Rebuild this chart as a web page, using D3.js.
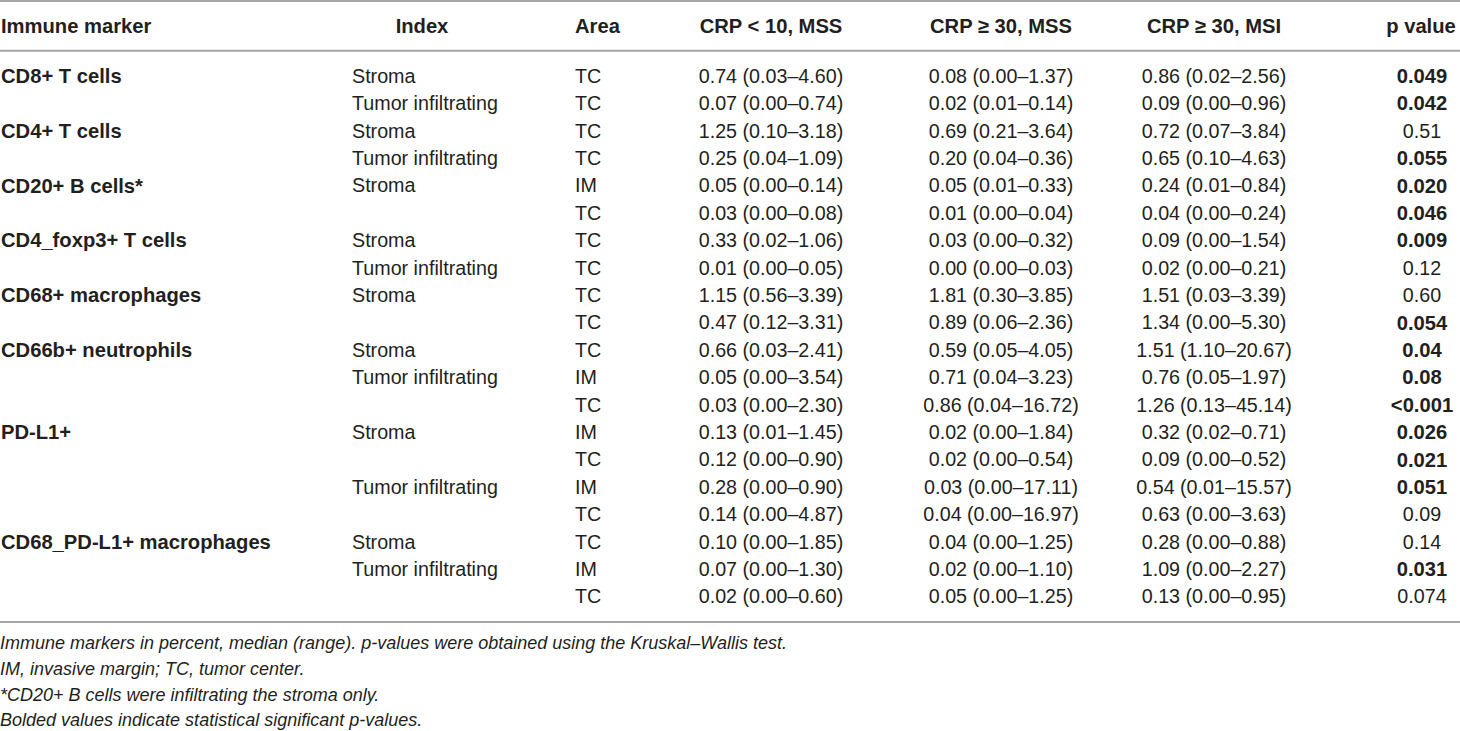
<!DOCTYPE html>
<html>
<head>
<meta charset="utf-8">
<script src="https://cdn.jsdelivr.net/npm/d3@7"></script>
<style>
  html, body { margin: 0; padding: 0; background: #fff; }
  svg text { font-family: "Liberation Sans", Arial, Helvetica, sans-serif; fill: #231f20; }
</style>
</head>
<body>
<svg id="chart" width="1460" height="731"></svg>
<script>
// Table data (one entry per row)
const headers = ["Immune marker", "Index", "Area", "CRP < 10, MSS", "CRP \u2265 30, MSS", "CRP \u2265 30, MSI", "p value"];

const markers = ["CD8+ T cells", "", "CD4+ T cells", "", "CD20+ B cells*", "", "CD4_foxp3+ T cells", "",
  "CD68+ macrophages", "", "CD66b+ neutrophils", "", "", "PD-L1+", "", "", "", "CD68_PD-L1+ macrophages", "", ""];

const indexes = ["Stroma", "Tumor infiltrating", "Stroma", "Tumor infiltrating", "Stroma", "", "Stroma", "Tumor infiltrating",
  "Stroma", "", "Stroma", "Tumor infiltrating", "", "Stroma", "", "Tumor infiltrating", "", "Stroma", "Tumor infiltrating", ""];

const areas = ["TC", "TC", "TC", "TC", "IM", "TC", "TC", "TC", "TC", "TC",
  "TC", "IM", "TC", "IM", "TC", "IM", "TC", "TC", "IM", "TC"];

const crpLowMss = ["0.74 (0.03\u20134.60)", "0.07 (0.00\u20130.74)", "1.25 (0.10\u20133.18)", "0.25 (0.04\u20131.09)",
  "0.05 (0.00\u20130.14)", "0.03 (0.00\u20130.08)", "0.33 (0.02\u20131.06)", "0.01 (0.00\u20130.05)",
  "1.15 (0.56\u20133.39)", "0.47 (0.12\u20133.31)", "0.66 (0.03\u20132.41)", "0.05 (0.00\u20133.54)",
  "0.03 (0.00\u20132.30)", "0.13 (0.01\u20131.45)", "0.12 (0.00\u20130.90)", "0.28 (0.00\u20130.90)",
  "0.14 (0.00\u20134.87)", "0.10 (0.00\u20131.85)", "0.07 (0.00\u20131.30)", "0.02 (0.00\u20130.60)"];

const crpHighMss = ["0.08 (0.00\u20131.37)", "0.02 (0.01\u20130.14)", "0.69 (0.21\u20133.64)", "0.20 (0.04\u20130.36)",
  "0.05 (0.01\u20130.33)", "0.01 (0.00\u20130.04)", "0.03 (0.00\u20130.32)", "0.00 (0.00\u20130.03)",
  "1.81 (0.30\u20133.85)", "0.89 (0.06\u20132.36)", "0.59 (0.05\u20134.05)", "0.71 (0.04\u20133.23)",
  "0.86 (0.04\u201316.72)", "0.02 (0.00\u20131.84)", "0.02 (0.00\u20130.54)", "0.03 (0.00\u201317.11)",
  "0.04 (0.00\u201316.97)", "0.04 (0.00\u20131.25)", "0.02 (0.00\u20131.10)", "0.05 (0.00\u20131.25)"];

const crpHighMsi = ["0.86 (0.02\u20132.56)", "0.09 (0.00\u20130.96)", "0.72 (0.07\u20133.84)", "0.65 (0.10\u20134.63)",
  "0.24 (0.01\u20130.84)", "0.04 (0.00\u20130.24)", "0.09 (0.00\u20131.54)", "0.02 (0.00\u20130.21)",
  "1.51 (0.03\u20133.39)", "1.34 (0.00\u20135.30)", "1.51 (1.10\u201320.67)", "0.76 (0.05\u20131.97)",
  "1.26 (0.13\u201345.14)", "0.32 (0.02\u20130.71)", "0.09 (0.00\u20130.52)", "0.54 (0.01\u201315.57)",
  "0.63 (0.00\u20133.63)", "0.28 (0.00\u20130.88)", "1.09 (0.00\u20132.27)", "0.13 (0.00\u20130.95)"];

const pValues = ["0.049", "0.042", "0.51", "0.055", "0.020", "0.046", "0.009", "0.12", "0.60", "0.054",
  "0.04", "0.08", "<0.001", "0.026", "0.021", "0.051", "0.09", "0.14", "0.031", "0.074"];

const pBold = [true, true, false, true, true, true, true, false, false, true,
  true, true, true, true, true, true, false, false, true, false];

const footnotes = [
  "Immune markers in percent, median (range). p-values were obtained using the Kruskal\u2013Wallis test.",
  "IM, invasive margin; TC, tumor center.",
  "*CD20+ B cells were infiltrating the stroma only.",
  "Bolded values indicate statistical significant p-values."
];

// Layout
const width = 1460;
const fontSize = 19.7;     // regular cells
const boldSize = 20.2;     // bold cells and header
const lineColor = "#a6a6a6";

const svg = d3.select("#chart");

// Rows positioned through a band scale
const y = d3.scaleBand()
  .domain(d3.range(markers.length))
  .range([62.3, 62.3 + 27.4 * markers.length]);
const rowY = i => y(i) + y.bandwidth() / 2;

// Column definitions: x position, anchor for header and for data
const columns = [
  { values: markers, x: 1, anchor: "start", hx: 1, hanchor: "start", bold: () => true },
  { values: indexes, x: 352, anchor: "start", hx: 422, hanchor: "middle", bold: () => false },
  { values: areas, x: 575, anchor: "start", hx: 575, hanchor: "start", bold: () => false },
  { values: crpLowMss, x: 771, anchor: "middle", hx: 771, hanchor: "middle", bold: () => false },
  { values: crpHighMss, x: 1001, anchor: "middle", hx: 1001, hanchor: "middle", bold: () => false },
  { values: crpHighMsi, x: 1214, anchor: "middle", hx: 1214, hanchor: "middle", bold: () => false },
  { values: pValues, x: 1422, anchor: "middle", hx: 1421, hanchor: "middle", bold: i => pBold[i] }
];

// Rules
const rules = [1, 50.7, 622];
svg.selectAll("line.rule")
  .data(rules)
  .join("line")
  .attr("class", "rule")
  .attr("x1", 0)
  .attr("x2", width)
  .attr("y1", d => d)
  .attr("y2", d => d)
  .attr("stroke", lineColor)
  .attr("stroke-width", 2);

// Header
svg.selectAll("text.header")
  .data(columns)
  .join("text")
  .attr("class", "header")
  .attr("x", d => d.hx)
  .attr("y", 26)
  .attr("dy", "0.35em")
  .attr("text-anchor", d => d.hanchor)
  .style("font-size", boldSize + "px")
  .style("font-weight", "bold")
  .text((d, i) => headers[i]);

// Body cells
columns.forEach(col => {
  svg.append("g")
    .selectAll("text")
    .data(col.values)
    .join("text")
    .attr("x", col.x)
    .attr("y", (d, i) => rowY(i))
    .attr("dy", "0.35em")
    .attr("text-anchor", col.anchor)
    .style("font-size", (d, i) => (col.bold(i) ? boldSize : fontSize) + "px")
    .style("font-weight", (d, i) => col.bold(i) ? "bold" : "normal")
    .text(d => d);
});

// Footnotes
const fy = d3.scaleLinear().domain([0, footnotes.length - 1]).range([643, 720]);
svg.selectAll("text.foot")
  .data(footnotes)
  .join("text")
  .attr("class", "foot")
  .attr("x", 0)
  .attr("y", (d, i) => fy(i))
  .attr("dy", "0.35em")
  .style("font-size", "18px")
  .style("font-style", "italic")
  .text(d => d);
</script>
</body>
</html>
